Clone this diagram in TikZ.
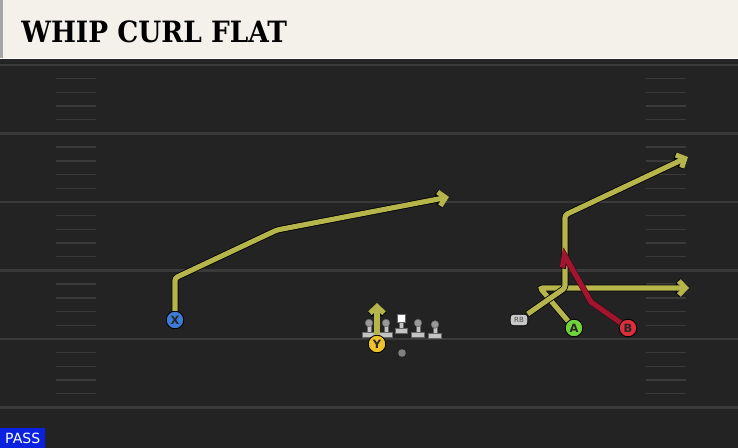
\documentclass[tikz,border=0pt]{standalone}
\usepackage{fontspec}
\setmainfont{DejaVu Sans}
\newfontfamily\titlefont{DejaVu Serif Condensed}
\usetikzlibrary{arrows.meta}

\definecolor{fieldgray}{HTML}{232323}
\definecolor{yardgray}{HTML}{3A3A3A}
\definecolor{headcream}{HTML}{F4F1EA}
\definecolor{routeyel}{HTML}{B5B54B}
\definecolor{routered}{HTML}{A3142F}
\definecolor{xblue}{HTML}{3C7BD6}
\definecolor{yyellow}{HTML}{EDC22A}
\definecolor{agreen}{HTML}{72D23C}
\definecolor{bred}{HTML}{DD2F3B}
\definecolor{linegray}{HTML}{C4C4C4}
\definecolor{passblue}{HTML}{0A22E0}

\tikzset{
  yardline/.style={draw=yardgray, line width=1.2pt},
  hashmark/.style={draw=yardgray, line width=0.8pt},
  route/.style={draw=routeyel, line width=2.9pt, rounded corners=1.5pt,
    -{Straight Barb[length=3.8pt,width=8pt]},
    preaction={draw=black, line width=3.8pt}},
  redroute/.style={draw=routered, line width=2.9pt,
    -{Straight Barb[harpoon,length=5.5pt,width=9pt]},
    preaction={draw=black!70!routered, line width=3.4pt}},
  player/.style={circle, draw=black, line width=0.5pt, minimum size=10pt,
    inner sep=0pt, font=\fontsize{6.5}{6.5}\selectfont\bfseries, text=black!85},
  lineman/.style={fill=linegray, draw=black!60, line width=0.3pt}
}

\begin{document}
\begin{tikzpicture}[x=0.02cm, y=-0.02cm]
\useasboundingbox (0, 0) rectangle (738, 448);

% field
\fill[fieldgray] (0, 59) rectangle (738, 448);
\fill[black!85] (0, 59) rectangle (738, 62);

% yard lines
\foreach \yl in {65, 133.5, 202, 270.5, 339, 407.5}
  \draw[yardline] (0, \yl) -- (738, \yl);

% hash marks
\foreach \yl in {65, 133.5, 202, 270.5, 339}
  \foreach \k in {1, 2, 3, 4} {
    \draw[hashmark] (56, \yl + 13.7*\k) -- (96, \yl + 13.7*\k);
    \draw[hashmark] (646, \yl + 13.7*\k) -- (686, \yl + 13.7*\k);
  }

% header
\fill[headcream] (3, 0) rectangle (738, 58);
\fill[black!35] (0, 0) rectangle (3, 58);
\node[anchor=west, inner sep=0pt, font=\titlefont\fontsize{16.7}{16.7}\selectfont\bfseries]
  (title) at (21, 32) {WHIP CURL FLAT};

% line
\foreach \lx/\ly in {369/0, 386/0, 418/0, 435/1.5} {
  \fill[lineman] (\lx - 6.5, 332 + \ly) rectangle (\lx + 6.5, 337 + \ly);
  \fill[lineman] (\lx - 2.2, 324 + \ly) rectangle (\lx + 2.2, 332 + \ly);
  \fill[lineman, fill=gray!80] (\lx, 323 + \ly) circle [radius=3.8];
}
\fill[lineman] (395.5, 328) rectangle (407.5, 333);
\fill[lineman] (399.5, 321) rectangle (403.5, 328);
\fill[white, draw=black!60, line width=0.3pt] (397, 314) rectangle (405.5, 322);
\fill[black!50] (402, 353) circle [radius=3.8];

% players
\node[player, fill=xblue] (X) at (175, 320) {X};
\node[player, fill=yyellow] (Y) at (377, 344) {Y};
\node[player, fill=agreen] (A) at (574, 328) {A};
\node[player, fill=bred] (B) at (628, 328) {B};
\node[rounded corners=1.8pt, fill=black!22, draw=black, line width=0.4pt,
  minimum width=10pt, minimum height=6.5pt, inner sep=0pt,
  font=\fontsize{4}{4}\selectfont, text=black!70] (RB) at (519, 320) {RB};

% routes
\coordinate (xbreak) at (175, 278);
\coordinate (xcut) at (277, 230);
\coordinate (xend) at (449, 197);
\coordinate (yend) at (377, 303);
\coordinate (acut) at (540, 288);
\coordinate (aend) at (689, 288);
\coordinate (rbcut) at (565, 288);
\coordinate (rbup) at (565, 215);
\coordinate (rbend) at (688, 157);
\coordinate (bcut) at (591, 302);
\coordinate (bend) at (561, 249);

\draw[route] (X) -- (xbreak) -- (xcut) -- (xend);
\draw[route] (Y) -- (yend);
\draw[route] (A) -- (acut) -- (aend);
\draw[route] (RB) -- (rbcut) -- (rbup) -- (rbend);
\draw[redroute] (B) -- (bcut) -- (bend);

% play type
\node[fill=passblue, text=white, anchor=south west, minimum width=25.5pt,
  minimum height=11pt, inner sep=0pt, font=\fontsize{8}{8}\selectfont]
  (pass) at (0, 448) {PASS};
\end{tikzpicture}
\end{document}
